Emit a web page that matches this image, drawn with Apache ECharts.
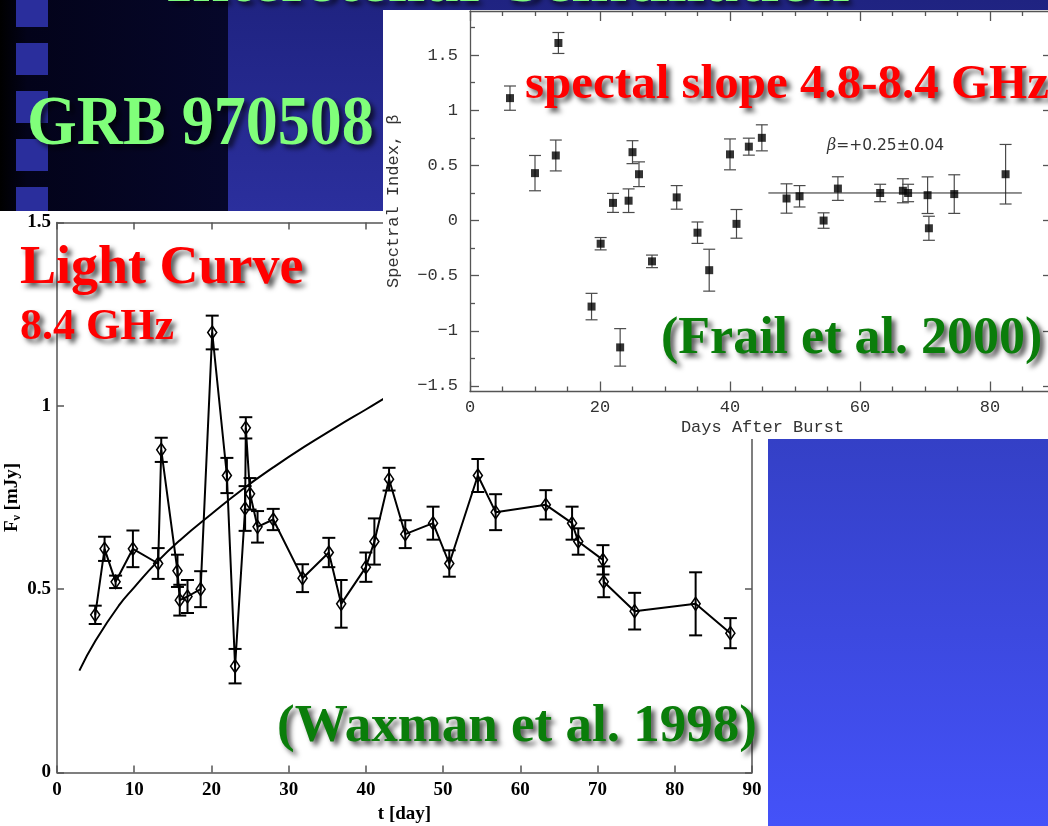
<!DOCTYPE html>
<html>
<head>
<meta charset="utf-8">
<script src="https://cdn.jsdelivr.net/npm/echarts@6/dist/echarts.min.js"></script>
<style>
html,body{margin:0;padding:0;background:#ffffff;}
#c{width:1048px;height:826px;}
</style>
</head>
<body>
<div id="c"></div>
<script>
// ---------- Light curve at 8.4 GHz (Waxman et al. 1998) ----------
const lcDays = [4.95,6.16,7.59,9.83,13.1,13.5,15.6,15.9,16.9,18.6,20.1,22.0,23.06,24.36,24.45,25.0,25.97,28.0,31.8,35.2,36.8,40.0,41.1,43.0,45.1,48.7,50.8,54.5,56.8,63.3,66.7,67.5,70.7,70.8,74.8,82.7,87.2];
const lcFlux = [0.43,0.61,0.52,0.61,0.57,0.88,0.55,0.47,0.48,0.50,1.20,0.81,0.29,0.72,0.94,0.76,0.67,0.69,0.53,0.60,0.46,0.56,0.63,0.80,0.65,0.68,0.57,0.81,0.71,0.73,0.68,0.63,0.58,0.52,0.44,0.46,0.38];
const lcErr  = [0.025,0.033,0.017,0.05,0.042,0.033,0.044,0.042,0.045,0.049,0.046,0.048,0.047,0.061,0.029,0.043,0.043,0.029,0.038,0.040,0.065,0.04,0.063,0.031,0.038,0.045,0.036,0.045,0.049,0.040,0.045,0.036,0.04,0.042,0.05,0.086,0.041];
// model curve
const modelDays = [2.9,5,8,10,13,16,20,24,28,32,36,40,44,48];
const modelFlux = [0.278,0.36,0.455,0.505,0.575,0.635,0.705,0.772,0.832,0.888,0.94,0.99,1.04,1.085];
const lcXTicks = [0,10,20,30,40,50,60,70,80,90];
const lcYTicks = [0,0.5,1,1.5];

// ---------- Spectral index 4.8-8.4 GHz (Frail et al. 2000) ----------
const siDays = [6.15,10.0,13.2,13.6,18.7,20.1,22.0,23.1,24.4,25.0,26.0,28.0,31.8,35.0,36.8,40.0,41.0,42.9,44.9,48.7,50.7,54.4,56.6,63.1,66.6,67.4,70.4,70.6,74.5,82.4];
const siBeta = [1.11,0.43,0.59,1.61,-0.78,-0.21,0.16,-1.15,0.18,0.62,0.42,-0.37,0.21,-0.11,-0.45,0.60,-0.03,0.67,0.75,0.20,0.22,0.0,0.29,0.25,0.27,0.25,0.23,-0.07,0.24,0.42];
const siErr  = [0.11,0.16,0.14,0.095,0.12,0.056,0.086,0.17,0.107,0.104,0.112,0.057,0.107,0.097,0.19,0.14,0.13,0.077,0.118,0.133,0.097,0.07,0.107,0.079,0.109,0.079,0.166,0.109,0.175,0.27];
const fitDays = [45.9,84.9];
const fitBeta = [0.25,0.25];
const siXMajor = [0,20,40,60,80];
const siXMinor = [5,10,15,25,30,35,45,50,55,65,70,75,85];
const siYMajor = [-1.5,-1,-0.5,0,0.5,1,1.5];
const siYMinor = [-1.25,-0.75,-0.25,0.25,0.75,1.25,1.75];

const SERIF = '"Liberation Serif","Times New Roman",serif';
const MONO = '"Liberation Mono","Courier New",monospace';

function errorBars(capHalf, color, width) {
  return function (params, api) {
    const x = api.value(0), y = api.value(1), e = api.value(2);
    const t = api.coord([x, y + e]);
    const b = api.coord([x, y - e]);
    const st = {stroke: color, lineWidth: width};
    return {type: 'group', children: [
      {type: 'line', shape: {x1: t[0], y1: t[1], x2: b[0], y2: b[1]}, style: st},
      {type: 'line', shape: {x1: t[0] - capHalf, y1: t[1], x2: t[0] + capHalf, y2: t[1]}, style: st},
      {type: 'line', shape: {x1: b[0] - capHalf, y1: b[1], x2: b[0] + capHalf, y2: b[1]}, style: st}
    ]};
  };
}

const lcLine = {color: '#555', width: 1.5};
const siLine = {color: '#555', width: 1.3};

function shadowText(text, x, y, font, fill, zlevel, extra) {
  const el = {
    type: 'text', x: x, y: y, zlevel: zlevel, z: 20,
    style: {
      text: text, font: font, fill: fill,
      align: 'left', textAlign: 'left', verticalAlign: 'middle', textVerticalAlign: 'middle',
      textShadowColor: 'rgba(0,0,0,0.65)', textShadowBlur: 5, textShadowOffsetX: 4, textShadowOffsetY: 4
    }
  };
  return Object.assign(el, extra || {});
}

const chart = echarts.init(document.getElementById('c'), null, {renderer: 'canvas'});

const option = {
  animation: false,
  backgroundColor: '#ffffff',
  grid: [
    {left: 57, right: 296, top: 222.5, bottom: 53.5, containLabel: false, outerBoundsMode: 'none'},
    {left: 470, right: -7, top: 11, bottom: 434.5, zlevel: 1, containLabel: false, outerBoundsMode: 'none'}
  ],
  xAxis: [
    { // main bottom
      gridIndex: 0, type: 'value', min: lcXTicks[0], max: lcXTicks[lcXTicks.length - 1], interval: 10,
      position: 'bottom',
      axisLine: {onZero: false, lineStyle: lcLine},
      axisTick: {inside: true, length: 7, lineStyle: lcLine},
      axisLabel: {margin: 8, color: '#000', fontFamily: SERIF, fontWeight: 'bold', fontSize: 19},
      splitLine: {show: false},
      name: 't [day]', nameLocation: 'middle', nameGap: 31,
      nameTextStyle: {color: '#000', fontFamily: SERIF, fontWeight: 'bold', fontSize: 19}
    },
    { // main top
      gridIndex: 0, type: 'value', min: 0, max: 90, interval: 10, position: 'top',
      axisLine: {onZero: false, lineStyle: lcLine},
      axisTick: {inside: true, length: 7, lineStyle: lcLine},
      axisLabel: {show: false}, splitLine: {show: false}
    },
    { // inset bottom major
      gridIndex: 1, zlevel: 1, type: 'value', min: 0, max: 90, position: 'bottom',
      axisLine: {onZero: false, lineStyle: siLine},
      axisTick: {inside: true, length: 10, customValues: siXMajor, lineStyle: siLine},
      axisLabel: {customValues: siXMajor, margin: 7, color: '#333', fontFamily: MONO, fontSize: 17},
      splitLine: {show: false},
      name: 'Days After Burst', nameLocation: 'middle', nameGap: 27,
      nameTextStyle: {color: '#333', fontFamily: MONO, fontSize: 17}
    },
    { // inset bottom minor
      gridIndex: 1, zlevel: 1, type: 'value', min: 0, max: 90, position: 'bottom',
      axisLine: {show: false, onZero: false},
      axisTick: {inside: true, length: 5, customValues: siXMinor, lineStyle: siLine},
      axisLabel: {show: false}, splitLine: {show: false}
    },
    { // inset top major
      gridIndex: 1, zlevel: 1, type: 'value', min: 0, max: 90, position: 'top',
      axisLine: {onZero: false, lineStyle: siLine},
      axisTick: {inside: true, length: 10, customValues: siXMajor, lineStyle: siLine},
      axisLabel: {show: false}, splitLine: {show: false}
    },
    { // inset top minor
      gridIndex: 1, zlevel: 1, type: 'value', min: 0, max: 90, position: 'top',
      axisLine: {show: false, onZero: false},
      axisTick: {inside: true, length: 5, customValues: siXMinor, lineStyle: siLine},
      axisLabel: {show: false}, splitLine: {show: false}
    }
  ],
  yAxis: [
    { // main left
      gridIndex: 0, type: 'value', min: lcYTicks[0], max: lcYTicks[lcYTicks.length - 1], interval: 0.5,
      position: 'left',
      axisLine: {onZero: false, lineStyle: lcLine},
      axisTick: {inside: true, length: 7, lineStyle: lcLine},
      axisLabel: {margin: 6, color: '#000', fontFamily: SERIF, fontWeight: 'bold', fontSize: 19},
      splitLine: {show: false},
      name: '{f|F}{s|ν}{f| [mJy]}', nameLocation: 'middle', nameGap: 34, nameMoveOverlap: false,
      nameTextStyle: {
        color: '#000',
        rich: {
          f: {fontFamily: SERIF, fontWeight: 'bold', fontSize: 19, color: '#000', lineHeight: 22},
          s: {fontFamily: SERIF, fontWeight: 'bold', fontSize: 12, color: '#000', lineHeight: 22, verticalAlign: 'bottom'}
        }
      }
    },
    { // main right
      gridIndex: 0, type: 'value', min: 0, max: 1.5, interval: 0.5, position: 'right',
      axisLine: {onZero: false, lineStyle: lcLine},
      axisTick: {inside: true, length: 7, lineStyle: lcLine},
      axisLabel: {show: false}, splitLine: {show: false}
    },
    { // inset left major
      gridIndex: 1, zlevel: 1, type: 'value', min: -1.55, max: 1.9, position: 'left',
      axisLine: {onZero: false, lineStyle: siLine},
      axisTick: {inside: true, length: 9, customValues: siYMajor, lineStyle: siLine},
      axisLabel: {customValues: siYMajor, margin: 12, color: '#333', fontFamily: MONO, fontSize: 17,
        formatter: function (v) { return String(v).replace('-', '\u2212'); }},
      splitLine: {show: false},
      name: 'Spectral Index, β', nameLocation: 'middle', nameGap: 68,
      nameTextStyle: {color: '#333', fontFamily: MONO, fontSize: 17}
    },
    { // inset right major
      gridIndex: 1, zlevel: 1, type: 'value', min: -1.55, max: 1.9, position: 'right',
      axisLine: {onZero: false, lineStyle: siLine},
      axisTick: {inside: true, length: 12, customValues: siYMajor, lineStyle: siLine},
      axisLabel: {show: false}, splitLine: {show: false}
    },
    { // inset left minor
      gridIndex: 1, zlevel: 1, type: 'value', min: -1.55, max: 1.9, position: 'left',
      axisLine: {show: false, onZero: false},
      axisTick: {inside: true, length: 5, customValues: siYMinor, lineStyle: siLine},
      axisLabel: {show: false}, splitLine: {show: false}
    }
  ],
  series: [
    {
      type: 'custom', name: 'lcErr', xAxisIndex: 0, yAxisIndex: 0, silent: true, z: 2,
      renderItem: errorBars(6.5, '#000', 2),
      encode: {x: 0, y: 1},
      data: lcDays.map(function (d, i) { return [d, lcFlux[i], lcErr[i]]; })
    },
    {
      type: 'line', name: 'model', xAxisIndex: 0, yAxisIndex: 0, silent: true, z: 2,
      smooth: true, symbol: 'none',
      lineStyle: {color: '#000', width: 2},
      data: modelDays.map(function (d, i) { return [d, modelFlux[i]]; })
    },
    {
      type: 'line', name: 'lc', xAxisIndex: 0, yAxisIndex: 0, silent: true, z: 3,
      symbol: 'diamond', symbolSize: [9, 13],
      itemStyle: {color: 'rgba(255,255,255,0)', borderColor: '#000', borderWidth: 1.6},
      lineStyle: {color: '#000', width: 2},
      data: lcDays.map(function (d, i) { return [d, lcFlux[i]]; })
    },
    {
      type: 'custom', name: 'siErr', xAxisIndex: 2, yAxisIndex: 2, zlevel: 1, z: 3, silent: true,
      renderItem: errorBars(6, '#4a4a4a', 1.2),
      encode: {x: 0, y: 1},
      data: siDays.map(function (d, i) { return [d, siBeta[i], siErr[i]]; })
    },
    {
      type: 'line', name: 'fit', xAxisIndex: 2, yAxisIndex: 2, zlevel: 1, z: 3, silent: true,
      symbol: 'none', lineStyle: {color: '#222', width: 1},
      data: fitDays.map(function (d, i) { return [d, fitBeta[i]]; })
    },
    {
      type: 'scatter', name: 'si', xAxisIndex: 2, yAxisIndex: 2, zlevel: 1, z: 4, silent: true,
      symbol: 'rect', symbolSize: 8, itemStyle: {color: '#000'},
      data: siDays.map(function (d, i) { return [d, siBeta[i]]; })
    }
  ],
  graphic: {elements: [
    // slide background pieces
    {type: 'rect', zlevel: 0, z: -20, shape: {x: 0, y: 0, width: 228, height: 211},
      style: {fill: {type: 'linear', x: 0, y: 0, x2: 1, y2: 0, colorStops: [
        {offset: 0, color: '#000000'}, {offset: 0.12, color: '#03031a'}, {offset: 1, color: '#06072a'}]}}},
    {type: 'rect', zlevel: 0, z: -20, shape: {x: 228, y: 0, width: 820, height: 211},
      style: {fill: {type: 'linear', x: 0, y: 0, x2: 0, y2: 1, colorStops: [
        {offset: 0, color: '#1f2381'}, {offset: 1, color: '#2b2f9d'}]}}},
    {type: 'rect', zlevel: 0, z: -15, shape: {x: 16, y: -5, width: 32, height: 32}, style: {fill: '#2a2e9c'}},
    {type: 'rect', zlevel: 0, z: -15, shape: {x: 16, y: 43, width: 32, height: 32}, style: {fill: '#2a2e9c'}},
    {type: 'rect', zlevel: 0, z: -15, shape: {x: 16, y: 91, width: 32, height: 32}, style: {fill: '#2a2e9c'}},
    {type: 'rect', zlevel: 0, z: -15, shape: {x: 16, y: 139, width: 32, height: 32}, style: {fill: '#2a2e9c'}},
    {type: 'rect', zlevel: 0, z: -15, shape: {x: 16, y: 187, width: 32, height: 32}, style: {fill: '#2a2e9c'}},
    {type: 'rect', zlevel: 0, z: -12, shape: {x: 0, y: 211, width: 768, height: 615}, style: {fill: '#ffffff'}},
    {type: 'rect', zlevel: 0, z: -12, shape: {x: 768, y: 439, width: 280, height: 387},
      style: {fill: {type: 'linear', x: 0, y: 0, x2: 0, y2: 1, colorStops: [
        {offset: 0, color: '#3440c6'}, {offset: 1, color: '#4452f9'}]}}},
    // inset white panel
    {type: 'rect', zlevel: 1, z: -5, shape: {x: 383, y: 10, width: 665, height: 429}, style: {fill: '#ffffff'}},
    // slide texts
    shadowText('Interstellar Scintillation', 166, -16.5, 'bold 66.7px ' + SERIF, '#7dfc7d', 0),
    shadowText('GRB 970508', 27, 126, 'bold 64px ' + SERIF, '#80ff7a', 0, {scaleY: 1.1}),
    shadowText('Light Curve', 20, 269.5, 'bold 54px ' + SERIF, '#ff0000', 0),
    shadowText('8.4 GHz', 20, 328, 'bold 44px ' + SERIF, '#ff0000', 0),
    shadowText('(Waxman et al. 1998)', 277, 727.5, 'bold 53px ' + SERIF, '#0a7d0a', 0),
    shadowText('spectal slope 4.8-8.4 GHz', 525, 85, 'bold 49px ' + SERIF, '#ff0000', 1),
    shadowText('(Frail et al. 2000)', 661, 339.5, 'bold 52px ' + SERIF, '#0a7d0a', 1),
    {type: 'text', x: 827, y: 146, zlevel: 1, z: 20,
      style: {text: '{i|β}{n|=+0.25±0.04}', align: 'left', textAlign: 'left', verticalAlign: 'middle', textVerticalAlign: 'middle',
        rich: {
          i: {fontFamily: '"DejaVu Serif",serif', fontStyle: 'italic', fontSize: 16, fill: '#333', color: '#333'},
          n: {fontFamily: '"DejaVu Sans",sans-serif', fontSize: 15.5, fill: '#333', color: '#333'}
        }}}
  ]}
};

chart.setOption(option);
</script>
</body>
</html>
